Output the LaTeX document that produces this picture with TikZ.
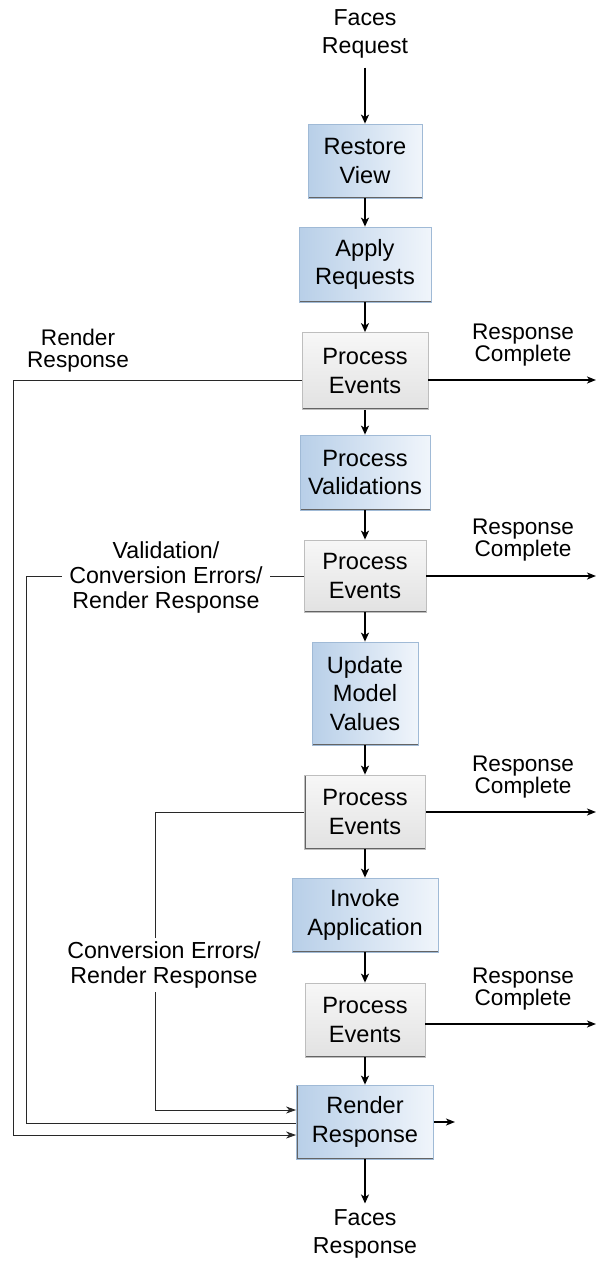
\documentclass[tikz,border=0pt]{standalone}
\usepackage{fontspec}
\setmainfont{Liberation Sans}
\usetikzlibrary{arrows.meta}

\definecolor{bL}{RGB}{184,207,232}
\definecolor{bR}{RGB}{240,245,251}
\definecolor{bBorder}{RGB}{160,186,214}
\definecolor{gT}{RGB}{247,247,247}
\definecolor{gB}{RGB}{226,226,226}
\definecolor{gBorder}{RGB}{190,190,190}
\definecolor{edgec}{RGB}{100,100,100}
\definecolor{connc}{RGB}{40,40,40}

\begin{document}
\begin{tikzpicture}[x=1pt,y=-1pt,
  every node/.style={align=center, inner sep=0pt},
  boxtext/.style={font=\fontsize{23.6}{28.5}\selectfont},
  shadowedge/.style={path picture={\draw[edgec,line width=2.2pt]
      (path picture bounding box.north west) -- (path picture bounding box.south west)
      -- (path picture bounding box.south east);}},
  bluebox/.style={boxtext, draw=bBorder, line width=0.8pt, left color=bL, right color=bR, shadowedge},
  graybox/.style={boxtext, draw=gBorder, line width=0.8pt, top color=gT, bottom color=gB, shadowedge},
  endtext/.style={font=\fontsize{23.1}{28}\selectfont},
  rlab/.style={font=\fontsize{22.6}{22}\selectfont},
  llab/.style={font=\fontsize{23.2}{25}\selectfont, fill=white, inner xsep=7pt, inner ysep=4pt},
  tlab/.style={font=\fontsize{22.6}{22}\selectfont},
  varr/.style={line width=1.6pt, black, -{Stealth[length=9pt,width=8pt,inset=2.5pt]}},
  harr/.style={line width=1.5pt, black, -{Stealth[length=9pt,width=7pt,inset=2.5pt]}},
  conn/.style={line width=1pt, connc},
  carr/.style={conn, -{Stealth[length=10pt,width=7pt,inset=3pt]}}
]
\useasboundingbox (0,0) rectangle (596,1263);

% text ends
\node[endtext] (freq) at (365,34) {Faces\\Request};
\node[endtext] (fresp) at (365,1234) {Faces\\Response};

% boxes
\node[bluebox, minimum width=114pt, minimum height=74pt] (rv) at (365,161) {Restore\\View};
\node[bluebox, minimum width=132pt, minimum height=75pt] (ar) at (365,264.5) {Apply\\Requests};
\node[graybox, minimum width=126pt, minimum height=77pt] (pe1) at (365,371) {Process\\Events};
\node[bluebox, minimum width=130pt, minimum height=75pt] (pv) at (365,472.5) {Process\\Validations};
\node[graybox, minimum width=122pt, minimum height=72pt] (pe2) at (365,576) {Process\\Events};
\node[bluebox, minimum width=106pt, minimum height=103pt] (umv) at (365,693.5) {Update\\Model\\Values};
\node[graybox, minimum width=121pt, minimum height=74pt] (pe3) at (365,812) {Process\\Events};
\node[bluebox, minimum width=146pt, minimum height=74pt] (ia) at (365,915) {Invoke\\Application};
\node[graybox, minimum width=120pt, minimum height=74pt] (pe4) at (365,1020) {Process\\Events};
\node[bluebox, minimum width=137pt, minimum height=74pt] (rr) at (365,1122) {Render\\Response};

% main vertical flow
\draw[varr] ([yshift=-9pt]freq.south) -- (rv.north);
\draw[varr] (rv.south) -- (ar.north);
\draw[varr] (ar.south) -- (pe1.north);
\draw[varr] (pe1.south) -- (pv.north);
\draw[varr] (pv.south) -- (pe2.north);
\draw[varr] (pe2.south) -- (umv.north);
\draw[varr] (umv.south) -- (pe3.north);
\draw[varr] (pe3.south) -- (ia.north);
\draw[varr] (ia.south) -- (pe4.north);
\draw[varr] (pe4.south) -- (rr.north);
\draw[varr] (rr.south) -- ([yshift=6pt]fresp.north);

% response complete exits
\coordinate (rc1) at (596,380);
\coordinate (rc2) at (596,576);
\coordinate (rc3) at (596,812);
\coordinate (rc4) at (596,1024);
\coordinate (rrout) at (455,1122);
\draw[harr] (pe1.east |- rc1) -- (rc1);
\draw[harr] (pe2.east |- rc2) -- (rc2);
\draw[harr] (pe3.east |- rc3) -- (rc3);
\draw[harr] (pe4.east |- rc4) -- (rc4);
\draw[harr] (rr.east) -- (rrout);
\node[rlab] (rl1) at (523,345) {Response\\Complete};
\node[rlab] (rl2) at (523,540) {Response\\Complete};
\node[rlab] (rl3) at (523,777) {Response\\Complete};
\node[rlab] (rl4) at (523,989) {Response\\Complete};

% feedback to render response
\coordinate (k1) at (13,380);
\coordinate (k2) at (26,576);
\coordinate (k3) at (155,812);
\draw[carr] (pe1.west |- k1) -- (k1) -- (k1 |- 0,1135) -- (rr.west |- 0,1135);
\draw[conn] (pe2.west |- k2) -- (k2) -- (k2 |- 0,1123) -- (rr.west |- 0,1123);
\draw[carr] (pe3.west |- k3) -- (k3) -- (k3 |- 0,1110) -- (rr.west |- 0,1110);

\node[tlab] (lab1) at (78,351) {Render\\Response};
\node[llab] (lab2) at (166,577) {Validation/\\Conversion Errors/\\Render Response};
\node[llab] (lab3) at (164,965) {Conversion Errors/\\Render Response};
\end{tikzpicture}
\end{document}
